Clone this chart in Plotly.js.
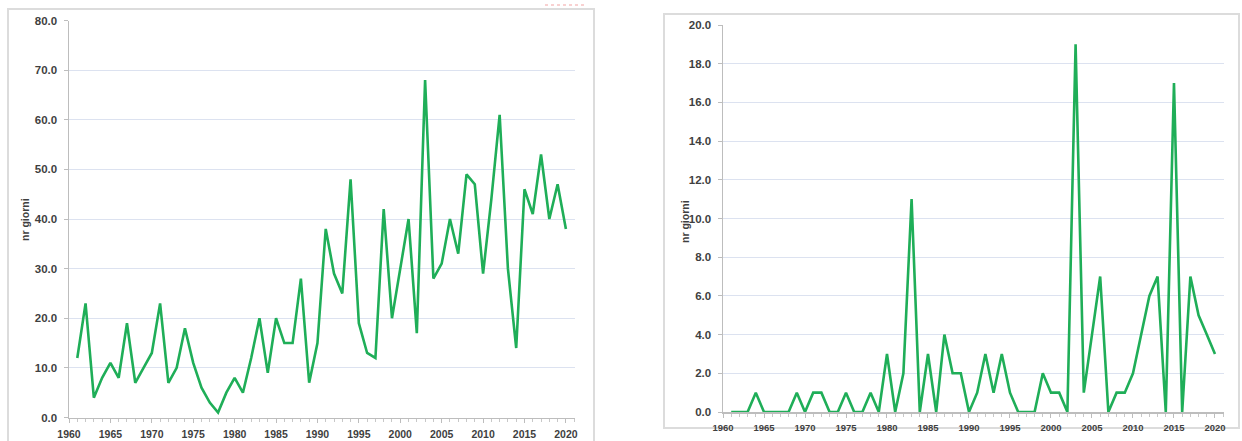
<!DOCTYPE html>
<html>
<head>
<meta charset="utf-8">
<script src="https://cdn.plot.ly/plotly-3.0.1.min.js"></script>
<style>
html,body{margin:0;padding:0;background:#fff;}
#chart{width:1242px;height:441px;}
</style>
</head>
<body>
<div id="chart"></div>
<script>
// ---- data ----
var years = [1961,1962,1963,1964,1965,1966,1967,1968,1969,1970,
             1971,1972,1973,1974,1975,1976,1977,1978,1979,1980,
             1981,1982,1983,1984,1985,1986,1987,1988,1989,1990,
             1991,1992,1993,1994,1995,1996,1997,1998,1999,2000,
             2001,2002,2003,2004,2005,2006,2007,2008,2009,2010,
             2011,2012,2013,2014,2015,2016,2017,2018,2019,2020];

var leftValues = [12,23,4,8,11,8,19,7,10,13,
                  23,7,10,18,11,6,3,1,5,8,
                  5,12,20,9,20,15,15,28,7,15,
                  38,29,25,48,19,13,12,42,20,30,
                  40,17,68,28,31,40,33,49,47,29,
                  44,61,30,14,46,41,53,40,47,38];

var rightValues = [0,0,0,1,0,0,0,0,1,0,
                   1,1,0,0,1,0,0,1,0,3,
                   0,2,11,0,3,0,4,2,2,0,
                   1,3,1,3,1,0,0,0,2,1,
                   1,0,19,1,4,7,0,1,1,2,
                   4,6,7,0,17,0,7,5,4,3];

var xTickYears = [1960,1965,1970,1975,1980,1985,1990,1995,2000,2005,2010,2015,2020];
var leftYTicks = [0,10,20,30,40,50,60,70,80];
var rightYTicks = [0,2,4,6,8,10,12,14,16,18,20];
var yTitle = 'nr giorni';

// ---- layout helpers ----
var W = 1242, H = 441;
function px(x){ return x / W; }
function py(y){ return 1 - y / H; }

var green = '#1fae58';
var fam = 'Liberation Sans, Arial, sans-serif';
var txtCol = '#3f3f3f';
var axisGray = '#bdbdbd';
var gridCol = '#dce2f0';

function xAxis(domain, anchor, fsize){
  return {
    domain: domain, anchor: anchor,
    range: [1960, 2021.1],
    tickmode: 'array', tickvals: xTickYears, ticktext: xTickYears.map(String),
    showgrid: false, zeroline: false,
    showline: true, linecolor: axisGray, linewidth: 1.5,
    ticks: 'outside', ticklen: 4, tickcolor: axisGray, tickwidth: 1,
    minor: {dtick: 1, tick0: 1960, ticks: 'outside', ticklen: 3, tickcolor: '#c8c8c8', showgrid: false},
    ticklabelstandoff: 2,
    tickfont: {family: fam, size: fsize, color: txtCol, weight: 'bold'},
    fixedrange: true
  };
}
function yAxis(domain, anchor, range, ticks){
  return {
    domain: domain, anchor: anchor,
    range: range,
    tickmode: 'array', tickvals: ticks, ticktext: ticks.map(function(v){return v.toFixed(1);}),
    showgrid: true, gridcolor: gridCol, gridwidth: 1,
    zeroline: false,
    showline: true, linecolor: axisGray, linewidth: 1.5,
    ticks: 'outside', ticklen: 4, tickcolor: axisGray, tickwidth: 1,
    ticklabelstandoff: 4,
    tickfont: {family: fam, size: 11.5, color: txtCol, weight: 'bold'},
    fixedrange: true
  };
}

var traces = [
  {x: years, y: leftValues, xaxis:'x', yaxis:'y', type:'scatter', mode:'lines',
   line:{color: green, width: 2.6}, hoverinfo:'x+y'},
  {x: years, y: rightValues, xaxis:'x2', yaxis:'y2', type:'scatter', mode:'lines',
   line:{color: green, width: 2.6}, hoverinfo:'x+y'}
];

var layout = {
  width: W, height: H,
  margin: {l:0, r:0, t:0, b:0, pad:0},
  paper_bgcolor: '#ffffff', plot_bgcolor: '#ffffff',
  showlegend: false,
  xaxis: xAxis([px(69), px(575)], 'y', 10.5),
  yaxis: yAxis([py(417.5), py(20.5)], 'x', [0, 80], leftYTicks),
  xaxis2: xAxis([px(723), px(1224)], 'y2', 9.5),
  yaxis2: yAxis([py(412), py(25)], 'x2', [0, 20], rightYTicks),
  annotations: [
    {xref:'paper', yref:'paper', x: px(25), y: py(220), text: yTitle, textangle: -90,
     showarrow:false, xanchor:'center', yanchor:'middle',
     font:{family: fam, size: 10.5, color: txtCol, weight:'bold'}},
    {xref:'paper', yref:'paper', x: px(685), y: py(222), text: yTitle, textangle: -90,
     showarrow:false, xanchor:'center', yanchor:'middle',
     font:{family: fam, size: 10.5, color: txtCol, weight:'bold'}}
  ],
  shapes: [
    {type:'rect', xref:'paper', yref:'paper', x0: px(8), x1: px(594), y0: py(9), y1: py(450),
     line:{color:'#dcdcdc', width:2}, fillcolor:'rgba(0,0,0,0)', layer:'below'},
    {type:'rect', xref:'paper', yref:'paper', x0: px(664), x1: px(1239), y0: py(14), y1: py(428),
     line:{color:'#dcdcdc', width:2}, fillcolor:'rgba(0,0,0,0)', layer:'below'},
    {type:'line', xref:'paper', yref:'paper', x0: px(545), x1: px(585), y0: py(5), y1: py(5),
     line:{color:'#f2a3a3', width:1, dash:'dot'}}
  ]
};

Plotly.newPlot('chart', traces, layout, {staticPlot:true, displayModeBar:false});
</script>
</body>
</html>
